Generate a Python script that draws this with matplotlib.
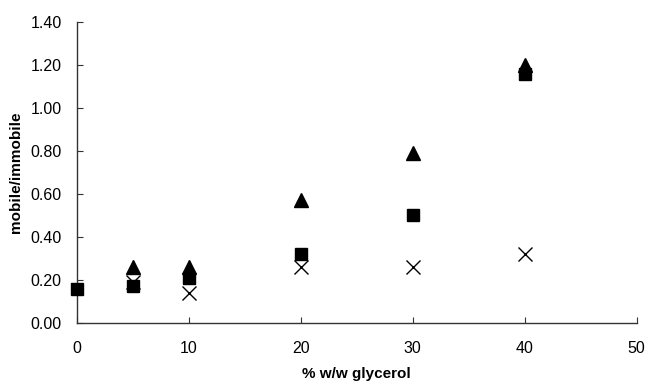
import matplotlib
matplotlib.use("Agg")
import matplotlib.pyplot as plt

plt.rcParams['font.family'] = ['Liberation Sans', 'DejaVu Sans']

x_tri = [5, 10, 20, 30, 40]
y_tri = [0.26, 0.26, 0.57, 0.79, 1.20]

x_sq = [0, 5, 10, 20, 30, 40]
y_sq = [0.16, 0.17, 0.21, 0.32, 0.50, 1.16]

x_cross = [5, 10, 20, 30, 40]
y_cross = [0.19, 0.14, 0.26, 0.26, 0.32]

xticks = [0, 10, 20, 30, 40, 50]
yticks = [0.0, 0.2, 0.4, 0.6, 0.8, 1.0, 1.2, 1.4]

fig = plt.figure(figsize=(6.51, 3.85), dpi=100)
ax = fig.add_axes([0.118, 0.161, 0.86, 0.782])

ax.plot(x_cross, y_cross, linestyle='none', marker='x', color='black',
        markersize=9.5, markeredgewidth=1.0, clip_on=False, zorder=3)
ax.plot(x_sq, y_sq, linestyle='none', marker='s', color='black',
        markersize=8.5, clip_on=False, zorder=4)
ax.plot(x_tri, y_tri, linestyle='none', marker='^', color='black',
        markersize=9.5, clip_on=False, zorder=5)

ax.set_xlim(0, 50)
ax.set_ylim(0, 1.4)
ax.set_xticks(xticks)
ax.set_xticklabels([str(v) for v in xticks])
ax.set_yticks(yticks)
ax.set_yticklabels([f"{v:.2f}" for v in yticks])

for s in ['top', 'right']:
    ax.spines[s].set_visible(False)
for s in ['left', 'bottom']:
    ax.spines[s].set_color('#333333')
    ax.spines[s].set_linewidth(1.0)

ax.tick_params(axis='both', direction='in', length=4, width=0.8,
               color='#333333', labelsize=11.5, labelcolor='black')
ax.tick_params(axis='x', pad=13)
ax.tick_params(axis='y', pad=11)

ax.set_xlabel('% w/w glycerol', fontsize=11, fontweight='bold', labelpad=8)
ax.set_ylabel('mobile/immobile', fontsize=11, fontweight='bold', labelpad=5)

fig.savefig('out.png', dpi=100)
